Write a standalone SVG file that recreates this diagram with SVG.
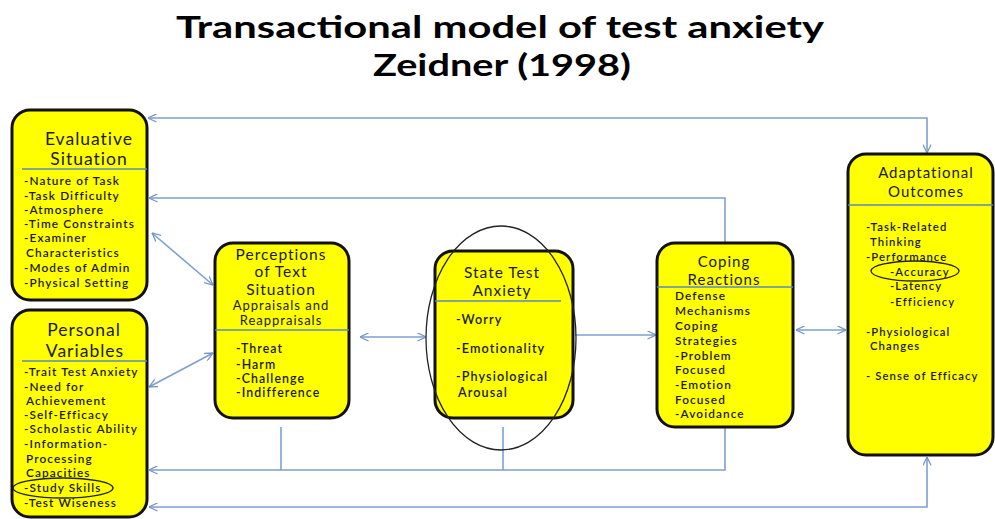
<svg xmlns="http://www.w3.org/2000/svg" width="995" height="519" viewBox="0 0 995 519">
<defs>
<marker id="ah" viewBox="0 0 10 10" refX="9.5" refY="5" markerWidth="9" markerHeight="9" markerUnits="userSpaceOnUse" orient="auto-start-reverse">
<path d="M0,0.5 L9.5,5 L0,9.5" fill="none" stroke="#7396c8" stroke-width="1.4"/>
</marker>
<style>
.box{fill:#ffff00;stroke:#111;stroke-width:3}
.div{stroke:#5b87c2;stroke-width:1.5}
.con{fill:none;stroke:#7f9fcf;stroke-width:1.6}
.ttl{font-family:Lato,"Open Sans","Liberation Sans",sans-serif;font-weight:bold;font-size:31px;fill:#000;text-anchor:middle}
.bt{font-family:Lato,"Open Sans","Liberation Sans",sans-serif;fill:#1a1a1a;text-anchor:middle;letter-spacing:1px}
.it{font-family:Lato,"Open Sans","Liberation Sans",sans-serif;font-weight:600;fill:#1a1a1a;letter-spacing:1.1px}
.ring{fill:none;stroke:#222;stroke-width:1.3}
</style>
</defs>
<rect width="995" height="519" fill="#fff"/>
<g id="title">
<text class="ttl" x="500" y="38" textLength="648" lengthAdjust="spacingAndGlyphs">Transactional  model of test anxiety</text>
<text class="ttl" x="502" y="76" textLength="258" lengthAdjust="spacingAndGlyphs">Zeidner (1998)</text>
</g>
<g id="connectors">
<polyline class="con" points="148,118 927,118 927,153" marker-start="url(#ah)" marker-end="url(#ah)"/>
<polyline class="con" points="725,243 725,198 149,198" marker-end="url(#ah)"/>
<line class="con" x1="152" y1="233" x2="213" y2="285" marker-start="url(#ah)" marker-end="url(#ah)"/>
<line class="con" x1="149" y1="387" x2="213" y2="353" marker-start="url(#ah)" marker-end="url(#ah)"/>
<line class="con" x1="360" y1="337" x2="426" y2="337" marker-start="url(#ah)" marker-end="url(#ah)"/>
<line class="con" x1="575" y1="335" x2="656" y2="335" marker-end="url(#ah)"/>
<line class="con" x1="796" y1="330" x2="846" y2="330" marker-start="url(#ah)" marker-end="url(#ah)"/>
<polyline class="con" points="725,428 725,470 149,470" marker-end="url(#ah)"/>
<line class="con" x1="281" y1="427" x2="281" y2="470"/>
<line class="con" x1="503" y1="427" x2="503" y2="470"/>
<polyline class="con" points="927,457 927,507 149,507" marker-start="url(#ah)" marker-end="url(#ah)"/>
</g>
<g id="evaluative">
<rect class="box" x="12" y="110" width="135" height="190" rx="18"/>
<line class="div" x1="22" y1="169" x2="147" y2="169"/>
<text class="bt" x="89" y="145" font-size="17.5">Evaluative</text>
<text class="bt" x="89" y="165" font-size="17.5">Situation</text>
<g font-size="11.8">
<text class="it" x="24" y="185">-Nature of Task</text>
<text class="it" x="24" y="200">-Task Difficulty</text>
<text class="it" x="24" y="214">-Atmosphere</text>
<text class="it" x="24" y="228">-Time Constraints</text>
<text class="it" x="24" y="242">-Examiner</text>
<text class="it" x="26" y="257">Characteristics</text>
<text class="it" x="24" y="272">-Modes of Admin</text>
<text class="it" x="24" y="287">-Physical Setting</text>
</g>
</g>
<g id="personal">
<rect class="box" x="12" y="310" width="135" height="207" rx="18"/>
<line class="div" x1="22" y1="361" x2="147" y2="361"/>
<text class="bt" x="84" y="336" font-size="17.5">Personal</text>
<text class="bt" x="85" y="357" font-size="17.5">Variables</text>
<g font-size="11.8">
<text class="it" x="24" y="376">-Trait Test Anxiety</text>
<text class="it" x="24" y="391">-Need for</text>
<text class="it" x="26" y="405">Achievement</text>
<text class="it" x="24" y="419">-Self-Efficacy</text>
<text class="it" x="24" y="433">-Scholastic Ability</text>
<text class="it" x="24" y="448">-Information-</text>
<text class="it" x="26" y="463">Processing</text>
<text class="it" x="26" y="477">Capacities</text>
<text class="it" x="24" y="492">-Study Skills</text>
<text class="it" x="24" y="507">-Test Wiseness</text>
</g>
<ellipse class="ring" cx="63" cy="488" rx="50" ry="10"/>
</g>
<g id="perceptions">
<rect class="box" x="215" y="243" width="134" height="175" rx="18"/>
<line class="div" x1="215" y1="330" x2="349" y2="330"/>
<text class="bt" x="281" y="260" font-size="15.5">Perceptions</text>
<text class="bt" x="281" y="277" font-size="15.5">of Text</text>
<text class="bt" x="281" y="295" font-size="15.5">Situation</text>
<text class="bt" x="281" y="310" font-size="13" letter-spacing="0.7">Appraisals and</text>
<text class="bt" x="281" y="325" font-size="13" letter-spacing="0.7">Reappraisals</text>
<g font-size="12.3">
<text class="it" x="236" y="353">-Threat</text>
<text class="it" x="236" y="369">-Harm</text>
<text class="it" x="236" y="383">-Challenge</text>
<text class="it" x="236" y="397">-Indifference</text>
</g>
</g>
<g id="state">
<rect class="box" x="435" y="251" width="138" height="167" rx="18"/>
<line class="div" x1="435" y1="301" x2="561" y2="301"/>
<text class="bt" x="502" y="278" font-size="15.5">State Test</text>
<text class="bt" x="502" y="296" font-size="15.5">Anxiety</text>
<g font-size="12.6">
<text class="it" x="456" y="324">-Worry</text>
<text class="it" x="456" y="353">-Emotionality</text>
<text class="it" x="456" y="381">-Physiological</text>
<text class="it" x="458" y="397">Arousal</text>
</g>
<ellipse class="ring" cx="501" cy="338" rx="75" ry="112"/>
</g>
<g id="coping">
<rect class="box" x="657" y="243" width="136" height="184" rx="18"/>
<line class="div" x1="657" y1="287" x2="793" y2="287"/>
<text class="bt" x="724" y="267" font-size="15">Coping</text>
<text class="bt" x="724" y="285" font-size="15">Reactions</text>
<g font-size="11.8">
<text class="it" x="675" y="300">Defense</text>
<text class="it" x="675" y="315">Mechanisms</text>
<text class="it" x="675" y="330">Coping</text>
<text class="it" x="675" y="345">Strategies</text>
<text class="it" x="675" y="360">-Problem</text>
<text class="it" x="675" y="374">Focused</text>
<text class="it" x="675" y="389">-Emotion</text>
<text class="it" x="675" y="404">Focused</text>
<text class="it" x="675" y="418">-Avoidance</text>
</g>
</g>
<g id="adaptational">
<rect class="box" x="848" y="154" width="145" height="301" rx="18"/>
<line class="div" x1="848" y1="205" x2="993" y2="205"/>
<text class="bt" x="926" y="178" font-size="15">Adaptational</text>
<text class="bt" x="926" y="197" font-size="15">Outcomes</text>
<g font-size="11.3">
<text class="it" x="866" y="231">-Task-Related</text>
<text class="it" x="870" y="246">Thinking</text>
<text class="it" x="866" y="261">-Performance</text>
<text class="it" x="890" y="276">-Accuracy</text>
<text class="it" x="890" y="290">-Latency</text>
<text class="it" x="890" y="306">-Efficiency</text>
<text class="it" x="866" y="336">-Physiological</text>
<text class="it" x="870" y="350">Changes</text>
<text class="it" x="866" y="380" letter-spacing="0.6">- Sense of Efficacy</text>
</g>
<ellipse class="ring" cx="915" cy="271" rx="44" ry="10"/>
</g>
</svg>
